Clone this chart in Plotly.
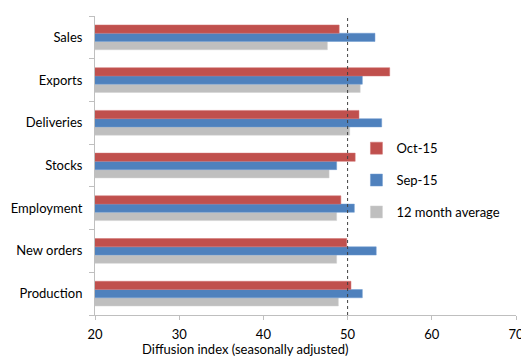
import plotly.graph_objects as go

categories = ["Production", "New orders", "Employment", "Stocks", "Deliveries", "Exports", "Sales"]
oct15 = [50.4, 49.9, 49.2, 50.9, 51.35, 55.0, 49.0]
sep15 = [51.75, 53.4, 50.8, 48.7, 54.05, 51.75, 53.25]
avg12 = [48.9, 48.7, 48.7, 47.8, 50.25, 51.5, 47.6]
x_ticks = [20, 30, 40, 50, 60, 70]

# page body has an 8px default margin; shrink figure to compensate
OFF = 8

fig = go.Figure()
fig.add_trace(go.Bar(y=categories, x=avg12, orientation="h", name="12 month average", legendrank=3,
                     marker=dict(color="#BFBFBF", line=dict(color="#D0D0D0", width=0.5)), legendgroup="c"))
fig.add_trace(go.Bar(y=categories, x=sep15, orientation="h", name="Sep-15", legendrank=2,
                     marker=dict(color="#4F81BD", line=dict(color="#6F9BD0", width=0.5)), legendgroup="b"))
fig.add_trace(go.Bar(y=categories, x=oct15, orientation="h", name="Oct-15", legendrank=1,
                     marker=dict(color="#C0504D", line=dict(color="#D07070", width=0.5)), legendgroup="a"))

fig.add_shape(type="line", x0=50, x1=50, y0=0, y1=1, xref="x", yref="paper",
              line=dict(color="#404040", width=1, dash="dot"))

fig.add_annotation(text="Diffusion index (seasonally adjusted)", x=0.356, xref="paper",
                   y=-0.113, yref="paper", xanchor="center", yanchor="middle",
                   showarrow=False, font=dict(size=13))

fig.update_layout(
    width=529 - OFF, height=362 - OFF,
    margin=dict(l=95 - OFF, r=13, t=16 - OFF, b=47),
    paper_bgcolor="white", plot_bgcolor="white",
    barmode="group", bargap=0.42, bargroupgap=0,
    font=dict(family="Lato, Open Sans, sans-serif", size=13, color="#000000"),
    showlegend=True,
    legend=dict(x=0.621, y=0.608, xanchor="left", yanchor="top",
                traceorder="grouped", tracegroupgap=12,
                font=dict(size=13), bgcolor="rgba(0,0,0,0)"),
    xaxis=dict(range=[20, 70], tickvals=x_ticks, showgrid=False, zeroline=False,
               showline=True, linecolor="#BFBFBF", linewidth=1, automargin=False,
               ticks="outside", ticklen=4, tickcolor="#BFBFBF", ticklabelstandoff=3),
    yaxis=dict(type="category", categoryorder="array", categoryarray=categories,
               showgrid=False, showline=True, linecolor="#BFBFBF", linewidth=1, automargin=False,
               ticks="outside", ticklen=5, tickcolor="#BFBFBF", tickson="boundaries",
               ticklabelstandoff=9, range=[-0.5, 6.5]),
)

fig.write_html("out.html")
